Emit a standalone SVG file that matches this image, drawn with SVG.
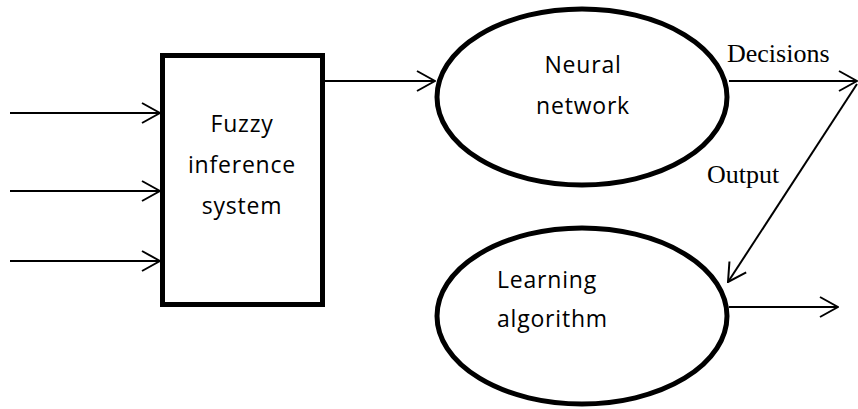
<svg xmlns="http://www.w3.org/2000/svg" width="858" height="409" viewBox="0 0 858 409">
  <defs>
    <marker id="open-arrow" viewBox="0 0 20 22" refX="19" refY="11" markerWidth="20" markerHeight="22" markerUnits="userSpaceOnUse" orient="auto">
      <path d="M1,1 L19,11 L1,21" fill="none" stroke="#000" stroke-width="2"/>
    </marker>
  </defs>
  <style>
    .shape { fill: #fff; stroke: #000; stroke-width: 5; }
    .edge { fill: none; stroke: #000; stroke-width: 2; marker-end: url(#open-arrow); }
    .label { font-family: "Open Sans", "Liberation Sans", sans-serif; font-size: 23px; letter-spacing: 0.8px; fill: #000; text-anchor: middle; }
    .left { text-anchor: start; }
    .tag { font-family: "Liberation Serif", serif; font-size: 26px; fill: #000; }
  </style>
  <rect width="858" height="409" fill="#fff"/>

  <g id="fuzzy-inference-system">
    <rect class="shape" x="162.5" y="55.5" width="160" height="249"/>
    <text class="label" x="242" y="132">Fuzzy</text>
    <text class="label" x="242" y="173">inference</text>
    <text class="label" x="242" y="214">system</text>
  </g>

  <g id="neural-network">
    <ellipse class="shape" cx="582" cy="97" rx="145" ry="88"/>
    <text class="label" x="583" y="73">Neural</text>
    <text class="label" x="583" y="114">network</text>
  </g>

  <g id="learning-algorithm">
    <ellipse class="shape" cx="582" cy="316" rx="145" ry="88"/>
    <text class="label left" x="497" y="288">Learning</text>
    <text class="label left" x="497" y="327">algorithm</text>
  </g>

  <g id="connectors">
    <line class="edge" x1="10" y1="113" x2="160" y2="113"/>
    <line class="edge" x1="10" y1="191" x2="160" y2="191"/>
    <line class="edge" x1="10" y1="261" x2="160" y2="261"/>
    <line class="edge" x1="325" y1="81" x2="435" y2="81"/>
    <line class="edge" x1="729" y1="81" x2="857" y2="81"/>
    <line class="edge" x1="857" y1="84" x2="728" y2="282"/>
    <line class="edge" x1="729" y1="307" x2="838" y2="307"/>
    <text class="tag" x="727" y="62">Decisions</text>
    <text class="tag" x="707" y="183">Output</text>
  </g>
</svg>
